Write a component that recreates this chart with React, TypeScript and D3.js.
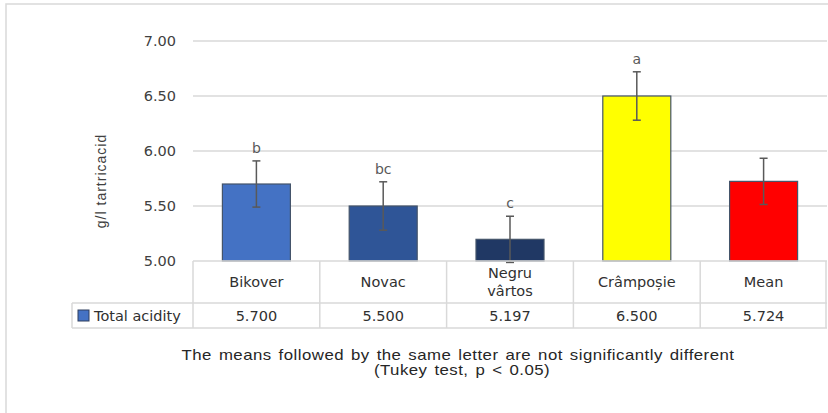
import React from 'react';
import * as d3 from 'd3';

const categories = ['Bikover', 'Novac', 'Negru vârtos', 'Crâmpoșie', 'Mean'];
const values = [5.7, 5.5, 5.197, 6.5, 5.724];
const valueLabels = ['5.700', '5.500', '5.197', '6.500', '5.724'];
const errors = [0.21, 0.22, 0.21, 0.22, 0.21];
const letters = ['b', 'bc', 'c', 'a', ''];
const barColors = ['#4472C4', '#2F5597', '#203864', '#FFFF00', '#FF0000'];
const yTicks = [5.0, 5.5, 6.0, 6.5, 7.0];

const W = 828;
const H = 413;
const left = 193;
const right = 827;
const top = 41;
const bottom = 261;
const rowCat = 303;
const rowVal = 328;
const legendLeft = 72;
const grid = '#D9D9D9';
const font = "'DejaVu Sans', Verdana, sans-serif";
const arial = "'Liberation Sans', Arial, sans-serif";

export default function App() {
  const x = d3.scaleBand<string>().domain(categories).range([left, right]).paddingInner(0).paddingOuter(0);
  const y = d3.scaleLinear().domain([5, 7]).range([bottom, top]);
  const bw = x.bandwidth();
  const barW = 68;

  return (
    <svg width={W} height={H} style={{ position: 'absolute', left: 0, top: 0, background: '#fff' }}>
      <rect x={6} y={4} width={W + 10} height={H + 10} fill="#fff" stroke={grid} strokeWidth={1.5} />
      {yTicks.slice(1).map((t) => (
        <line key={t} x1={left} x2={right} y1={y(t)} y2={y(t)} stroke={grid} strokeWidth={1.5} />
      ))}
      {yTicks.map((t) => (
        <text key={'l' + t} x={176} y={y(t)} dy="0.35em" textAnchor="end" fontFamily={font} fontSize={14.5} fill="#404040">
          {d3.format('.2f')(t)}
        </text>
      ))}
      <text transform={`translate(106,181) rotate(-90)`} textAnchor="middle" fontFamily={arial} fontSize={14} letterSpacing={1} fill="#404040">
        g/l tartricacid
      </text>
      {categories.map((c, i) => {
        const cx = (x(c) as number) + bw / 2;
        const yt = y(values[i] + errors[i]);
        const yb = y(values[i] - errors[i]);
        return (
          <g key={c}>
            <rect x={cx - barW / 2} y={y(values[i])} width={barW} height={bottom - y(values[i])} fill={barColors[i]} stroke="#44546A" strokeWidth={1.2} />
            <line x1={cx} x2={cx} y1={yt} y2={yb} stroke="#595959" strokeWidth={1.5} />
            <line x1={cx - 4} x2={cx + 4} y1={yt} y2={yt} stroke="#595959" strokeWidth={1.5} />
            <line x1={cx - 4} x2={cx + 4} y1={yb} y2={yb} stroke="#595959" strokeWidth={1.5} />
            {letters[i] && (
              <text x={cx} y={yt - 8} textAnchor="middle" fontFamily={font} fontSize={14} fill="#595959">
                {letters[i]}
              </text>
            )}
          </g>
        );
      })}
      {/* data table */}
      <g stroke={grid} strokeWidth={1.5} fill="none">
        <line x1={left} x2={right} y1={bottom} y2={bottom} />
        <line x1={legendLeft} x2={right} y1={rowCat} y2={rowCat} />
        <line x1={legendLeft} x2={right} y1={rowVal} y2={rowVal} />
        <line x1={legendLeft} x2={legendLeft} y1={rowCat} y2={rowVal} />
        {categories.map((c) => (
          <line key={c} x1={x(c) as number} x2={x(c) as number} y1={bottom} y2={rowVal} />
        ))}
        <line x1={right - 1} x2={right - 1} y1={bottom} y2={rowVal} />
      </g>
      {categories.map((c, i) => {
        const cx = (x(c) as number) + bw / 2;
        const parts = c === 'Negru vârtos' ? ['Negru', 'vârtos'] : [c];
        const y0 = (bottom + rowCat) / 2 - ((parts.length - 1) * 18) / 2;
        return (
          <g key={'t' + c} fontFamily={font} fontSize={14.5} fill="#303030" textAnchor="middle">
            {parts.map((p, k) => (
              <text key={p} x={cx} y={y0 + k * 18} dy="0.35em">{p}</text>
            ))}
            <text x={cx} y={(rowCat + rowVal) / 2} dy="0.35em">{valueLabels[i]}</text>
          </g>
        );
      })}
      <rect x={78} y={310} width={11} height={11} fill="#4472C4" stroke="#2F3F5F" strokeWidth={1} />
      <text x={94} y={(rowCat + rowVal) / 2} dy="0.35em" fontFamily={font} fontSize={14.5} fill="#303030">
        Total acidity
      </text>
      <g fontFamily={arial} fontSize={14} fill="#262626" textAnchor="middle" letterSpacing={0.4} wordSpacing={1.5}>
        <text transform="translate(458,360) scale(1.2,1)">The means followed by the same letter are not significantly different</text>
        <text transform="translate(462,375) scale(1.2,1)">(Tukey test, p &lt; 0.05)</text>
      </g>
    </svg>
  );
}
